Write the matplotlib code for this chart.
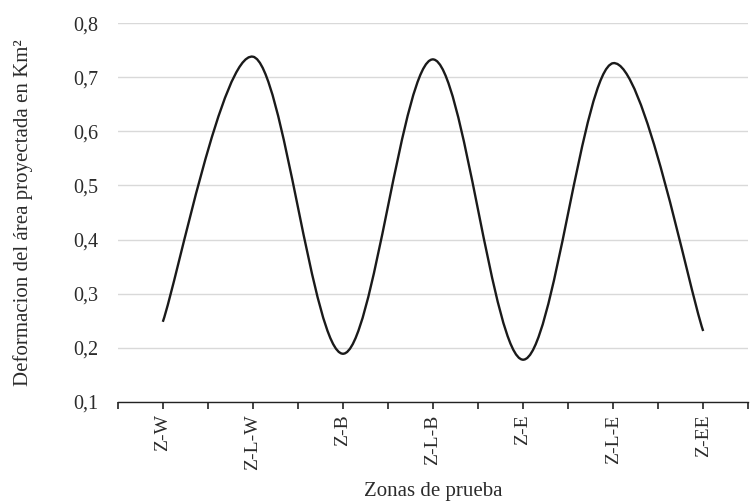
import matplotlib
matplotlib.use("Agg")
import matplotlib.pyplot as plt
from matplotlib.path import Path
from matplotlib.patches import PathPatch
from matplotlib.ticker import FuncFormatter

plt.rcParams['font.family'] = ['Liberation Serif', 'DejaVu Serif']

# datos
zonas = ["Z-W", "Z-L-W", "Z-B", "Z-L-B", "Z-E", "Z-L-E", "Z-EE"]
deformacion = [0.248, 0.738, 0.189, 0.733, 0.178, 0.726, 0.231]

fig = plt.figure(figsize=(7.55, 5.03), dpi=100)
ax = fig.add_axes([0.156, 0.201, 0.835, 0.753])

# linea suavizada tipo Excel (bezier entre puntos)
xs = list(range(len(zonas)))
ys = deformacion
n = len(xs)
verts = [(xs[0], ys[0])]
codes = [Path.MOVETO]
for i in range(n - 1):
    x0, y0 = xs[max(i - 1, 0)], ys[max(i - 1, 0)]
    x1, y1 = xs[i], ys[i]
    x2, y2 = xs[i + 1], ys[i + 1]
    x3, y3 = xs[min(i + 2, n - 1)], ys[min(i + 2, n - 1)]
    c1 = (x1 + (x2 - x0) / 6, y1 + (y2 - y0) / 6)
    c2 = (x2 - (x3 - x1) / 6, y2 - (y3 - y1) / 6)
    verts += [c1, c2, (x2, y2)]
    codes += [Path.CURVE4] * 3
ax.add_patch(PathPatch(Path(verts, codes), facecolor="none",
                       edgecolor="#1a1a1a", lw=1.7, zorder=3))

ax.set_xlim(-0.5, len(zonas) - 0.5)
ax.set_ylim(0.1, 0.8)
ax.set_yticks([0.1, 0.2, 0.3, 0.4, 0.5, 0.6, 0.7, 0.8])
ax.yaxis.set_major_formatter(FuncFormatter(lambda v, p: f"{v:.1f}".replace(".", ",")))
ax.set_xticks(xs)
ax.set_xticklabels(zonas, rotation=90)
ax.set_xticks([i - 0.5 for i in range(len(zonas) + 1)], minor=True)

ax.grid(axis="y", color="#d9d9d9", lw=1.0)
ax.set_axisbelow(True)
for s in ["top", "right", "left"]:
    ax.spines[s].set_visible(False)
ax.spines["bottom"].set_color("#222222")
ax.spines["bottom"].set_linewidth(1.0)
ax.tick_params(axis="y", length=0, labelsize=14.5, pad=14, colors="#2b2b2b")
ax.tick_params(axis="x", which="both", length=5, width=1.2, color="#222222",
               labelsize=14, pad=4, labelcolor="#2b2b2b")

ax.set_xlabel("Zonas de prueba", fontsize=15, color="#2b2b2b")
ax.set_ylabel("Deformacion del área proyectada en Km²", fontsize=15,
              color="#2b2b2b")
ax.yaxis.set_label_coords(-0.135, 0.5)
ax.xaxis.set_label_coords(0.5, -0.211)

fig.savefig("out.png", dpi=100)
